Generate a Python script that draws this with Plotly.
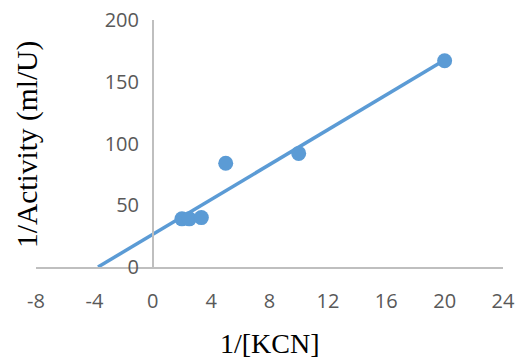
import numpy as np
import plotly.graph_objects as go

# Lineweaver-Burk style data: reciprocal KCN concentration vs reciprocal activity
inv_kcn = [2.0, 2.5, 3.33, 5.0, 10.0, 20.0]
inv_activity = [39.0, 39.0, 40.0, 84.0, 92.0, 167.0]

x_ticks = [-8, -4, 0, 4, 8, 12, 16, 20, 24]
y_ticks = [0, 50, 100, 150, 200]

BLUE = "#5B9BD5"
AXIS_GREY = "#BFBFBF"
TICK_GREY = "#595959"

# Least-squares trendline, extended back to where it meets y = 0
slope, intercept = np.polyfit(inv_kcn, inv_activity, 1)
x_fit = np.array([-intercept / slope, max(inv_kcn)])
y_fit = slope * x_fit + intercept

fig = go.Figure()
fig.add_trace(go.Scatter(
    x=x_fit, y=y_fit, mode="lines",
    line=dict(color=BLUE, width=3.5), hoverinfo="skip", showlegend=False,
))
fig.add_trace(go.Scatter(
    x=inv_kcn, y=inv_activity, mode="markers",
    marker=dict(color=BLUE, size=15), showlegend=False,
))

tick_font = dict(family="Open Sans", size=20, color=TICK_GREY)

fig.update_layout(
    width=521, height=358,
    margin=dict(l=36, r=18, t=20, b=91, autoexpand=False),
    paper_bgcolor="white", plot_bgcolor="white",
    xaxis=dict(
        range=[-8, 24], tickvals=x_ticks, ticktext=[str(v) for v in x_ticks],
        showgrid=False, zeroline=False, automargin=False,
        showline=True, linecolor=AXIS_GREY, linewidth=1.5,
        ticks="", tickfont=tick_font, ticklabelstandoff=15,
        fixedrange=True,
    ),
    yaxis=dict(
        range=[0, 200], tickvals=y_ticks, ticktext=[str(v) for v in y_ticks],
        showgrid=False, zeroline=False, automargin=False,
        anchor="free", position=0.25,
        showline=True, linecolor=AXIS_GREY, linewidth=1.5,
        ticks="", tickfont=tick_font, ticklabelstandoff=9,
        fixedrange=True,
    ),
    annotations=[
        dict(text="1/[KCN]", xref="paper", yref="paper", x=0.5, y=-0.308,
             xanchor="center", yanchor="middle", showarrow=False,
             font=dict(family="Liberation Serif", size=28, color="black")),
        dict(text="1/Activity (ml/U)", xref="paper", yref="paper", x=-0.017, y=0.494,
             xanchor="center", yanchor="middle", textangle=-90, showarrow=False,
             font=dict(family="Liberation Serif", size=29.5, color="black")),
    ],
)

fig.write_html("out.html")
